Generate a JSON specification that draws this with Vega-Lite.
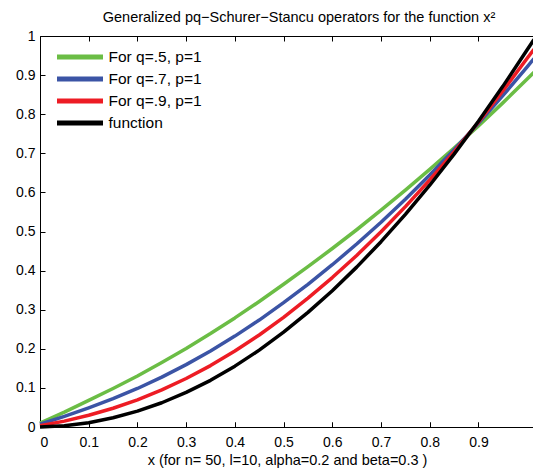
{
  "$schema": "https://vega.github.io/schema/vega-lite/v6.json",
  "autosize": {"type": "none"},
  "padding": {"left": 40, "top": 36, "right": 0, "bottom": 46},
  "width": 494,
  "height": 391,
  "background": "white",
  "config": {
    "view": {"stroke": null},
    "font": "Liberation Sans",
    "axis": {"domainColor": "black", "tickColor": "black", "labelColor": "black", "labelFont": "Liberation Sans", "labelFontSize": 14, "titleFont": "Liberation Sans", "titleFontWeight": "normal", "titleColor": "black", "domainWidth": 1, "tickWidth": 1}
  },
  "title": {"text": "Generalized pq−Schurer−Stancu operators for the function x²", "font": "Liberation Sans", "fontSize": 14.5, "fontWeight": "normal", "color": "black", "anchor": "middle", "dx": 12, "offset": 4},
  "data": {"values": [
    {"x": 0, "y": 0.010, "s": "For q=.5, p=1"},
    {"x": 0.05, "y": 0.0380, "s": "For q=.5, p=1"},
    {"x": 0.1, "y": 0.0680, "s": "For q=.5, p=1"},
    {"x": 0.15, "y": 0.0985, "s": "For q=.5, p=1"},
    {"x": 0.2, "y": 0.1306, "s": "For q=.5, p=1"},
    {"x": 0.25, "y": 0.1650, "s": "For q=.5, p=1"},
    {"x": 0.3, "y": 0.2010, "s": "For q=.5, p=1"},
    {"x": 0.35, "y": 0.2390, "s": "For q=.5, p=1"},
    {"x": 0.4, "y": 0.2790, "s": "For q=.5, p=1"},
    {"x": 0.45, "y": 0.3210, "s": "For q=.5, p=1"},
    {"x": 0.5, "y": 0.3650, "s": "For q=.5, p=1"},
    {"x": 0.55, "y": 0.4100, "s": "For q=.5, p=1"},
    {"x": 0.6, "y": 0.4565, "s": "For q=.5, p=1"},
    {"x": 0.65, "y": 0.5045, "s": "For q=.5, p=1"},
    {"x": 0.7, "y": 0.5545, "s": "For q=.5, p=1"},
    {"x": 0.75, "y": 0.6060, "s": "For q=.5, p=1"},
    {"x": 0.8, "y": 0.6590, "s": "For q=.5, p=1"},
    {"x": 0.85, "y": 0.7135, "s": "For q=.5, p=1"},
    {"x": 0.9, "y": 0.7700, "s": "For q=.5, p=1"},
    {"x": 0.95, "y": 0.8290, "s": "For q=.5, p=1"},
    {"x": 1.0, "y": 0.890, "s": "For q=.5, p=1"},
    {"x": 1.014, "y": 0.907, "s": "For q=.5, p=1"},
    {"x": 0, "y": 0.007, "s": "For q=.7, p=1"},
    {"x": 0.05, "y": 0.0270, "s": "For q=.7, p=1"},
    {"x": 0.1, "y": 0.0490, "s": "For q=.7, p=1"},
    {"x": 0.15, "y": 0.0725, "s": "For q=.7, p=1"},
    {"x": 0.2, "y": 0.0985, "s": "For q=.7, p=1"},
    {"x": 0.25, "y": 0.1275, "s": "For q=.7, p=1"},
    {"x": 0.3, "y": 0.1595, "s": "For q=.7, p=1"},
    {"x": 0.35, "y": 0.1945, "s": "For q=.7, p=1"},
    {"x": 0.4, "y": 0.2325, "s": "For q=.7, p=1"},
    {"x": 0.45, "y": 0.2735, "s": "For q=.7, p=1"},
    {"x": 0.5, "y": 0.3180, "s": "For q=.7, p=1"},
    {"x": 0.55, "y": 0.3650, "s": "For q=.7, p=1"},
    {"x": 0.6, "y": 0.4150, "s": "For q=.7, p=1"},
    {"x": 0.65, "y": 0.4680, "s": "For q=.7, p=1"},
    {"x": 0.7, "y": 0.5235, "s": "For q=.7, p=1"},
    {"x": 0.75, "y": 0.5824, "s": "For q=.7, p=1"},
    {"x": 0.8, "y": 0.6443, "s": "For q=.7, p=1"},
    {"x": 0.85, "y": 0.7091, "s": "For q=.7, p=1"},
    {"x": 0.9, "y": 0.7768, "s": "For q=.7, p=1"},
    {"x": 0.95, "y": 0.8474, "s": "For q=.7, p=1"},
    {"x": 1.0, "y": 0.921, "s": "For q=.7, p=1"},
    {"x": 1.014, "y": 0.942, "s": "For q=.7, p=1"},
    {"x": 0, "y": 0.003, "s": "For q=.9, p=1"},
    {"x": 0.05, "y": 0.0150, "s": "For q=.9, p=1"},
    {"x": 0.1, "y": 0.0300, "s": "For q=.9, p=1"},
    {"x": 0.15, "y": 0.0480, "s": "For q=.9, p=1"},
    {"x": 0.2, "y": 0.0695, "s": "For q=.9, p=1"},
    {"x": 0.25, "y": 0.0950, "s": "For q=.9, p=1"},
    {"x": 0.3, "y": 0.1240, "s": "For q=.9, p=1"},
    {"x": 0.35, "y": 0.1570, "s": "For q=.9, p=1"},
    {"x": 0.4, "y": 0.1942, "s": "For q=.9, p=1"},
    {"x": 0.45, "y": 0.2354, "s": "For q=.9, p=1"},
    {"x": 0.5, "y": 0.2805, "s": "For q=.9, p=1"},
    {"x": 0.55, "y": 0.3294, "s": "For q=.9, p=1"},
    {"x": 0.6, "y": 0.3822, "s": "For q=.9, p=1"},
    {"x": 0.65, "y": 0.4388, "s": "For q=.9, p=1"},
    {"x": 0.7, "y": 0.4993, "s": "For q=.9, p=1"},
    {"x": 0.75, "y": 0.5636, "s": "For q=.9, p=1"},
    {"x": 0.8, "y": 0.6318, "s": "For q=.9, p=1"},
    {"x": 0.85, "y": 0.7038, "s": "For q=.9, p=1"},
    {"x": 0.9, "y": 0.7797, "s": "For q=.9, p=1"},
    {"x": 0.95, "y": 0.8594, "s": "For q=.9, p=1"},
    {"x": 1.0, "y": 0.943, "s": "For q=.9, p=1"},
    {"x": 1.014, "y": 0.966, "s": "For q=.9, p=1"},
    {"x": 0, "y": 0, "s": "function"},
    {"x": 0.05, "y": 0.0030, "s": "function"},
    {"x": 0.1, "y": 0.0110, "s": "function"},
    {"x": 0.15, "y": 0.0235, "s": "function"},
    {"x": 0.2, "y": 0.0405, "s": "function"},
    {"x": 0.25, "y": 0.0620, "s": "function"},
    {"x": 0.3, "y": 0.0885, "s": "function"},
    {"x": 0.35, "y": 0.1194, "s": "function"},
    {"x": 0.4, "y": 0.1556, "s": "function"},
    {"x": 0.45, "y": 0.1967, "s": "function"},
    {"x": 0.5, "y": 0.2425, "s": "function"},
    {"x": 0.55, "y": 0.2932, "s": "function"},
    {"x": 0.6, "y": 0.3486, "s": "function"},
    {"x": 0.65, "y": 0.4089, "s": "function"},
    {"x": 0.7, "y": 0.4739, "s": "function"},
    {"x": 0.75, "y": 0.5438, "s": "function"},
    {"x": 0.8, "y": 0.6184, "s": "function"},
    {"x": 0.85, "y": 0.6979, "s": "function"},
    {"x": 0.9, "y": 0.7821, "s": "function"},
    {"x": 0.95, "y": 0.8712, "s": "function"},
    {"x": 1.0, "y": 0.965, "s": "function"},
    {"x": 1.014, "y": 0.991, "s": "function"}
  ]},
  "mark": {"type": "line", "strokeWidth": 3.5, "strokeJoin": "round"},
  "encoding": {
    "x": {"field": "x", "type": "quantitative", "scale": {"domain": [0, 1.014], "nice": false, "zero": false},
          "axis": {"orient": "bottom", "values": [0, 0.1, 0.2, 0.3, 0.4, 0.5, 0.6, 0.7, 0.8, 0.9], "format": "~g", "tickSize": -5, "labelPadding": 13, "grid": true, "gridColor": "black", "gridOpacity": 1, "gridWidth": 1, "gridDash": [5, 381, 5, 2000], "title": "x (for n= 50, l=10, alpha=0.2 and beta=0.3 )", "titleFontSize": 14.5, "titlePadding": 4}},
    "y": {"field": "y", "type": "quantitative", "scale": {"domain": [0, 1], "nice": false},
          "axis": {"values": [0, 0.1, 0.2, 0.3, 0.4, 0.5, 0.6, 0.7, 0.8, 0.9, 1], "format": "~g", "tickSize": -5, "labelPadding": 10, "title": null, "grid": true, "gridWidth": 1, "gridOpacity": 1, "gridColor": {"condition": {"test": "datum.value >= 0.999", "value": "black"}, "value": "transparent"}}},
    "color": {"field": "s", "type": "nominal",
              "scale": {"domain": ["For q=.5, p=1", "For q=.7, p=1", "For q=.9, p=1", "function"], "range": ["#6bbd45", "#3b54a5", "#ed1c24", "#000000"]},
              "legend": {"orient": "none", "legendX": 14.5, "legendY": 14, "title": null, "padding": 0, "symbolType": "stroke", "symbolStrokeWidth": 5, "symbolSize": 2116, "clipHeight": 14, "rowPadding": 6, "labelOffset": 3, "labelFont": "Liberation Sans", "labelFontSize": 15.5, "labelColor": "black", "labelLimit": 300}}
  }
}
